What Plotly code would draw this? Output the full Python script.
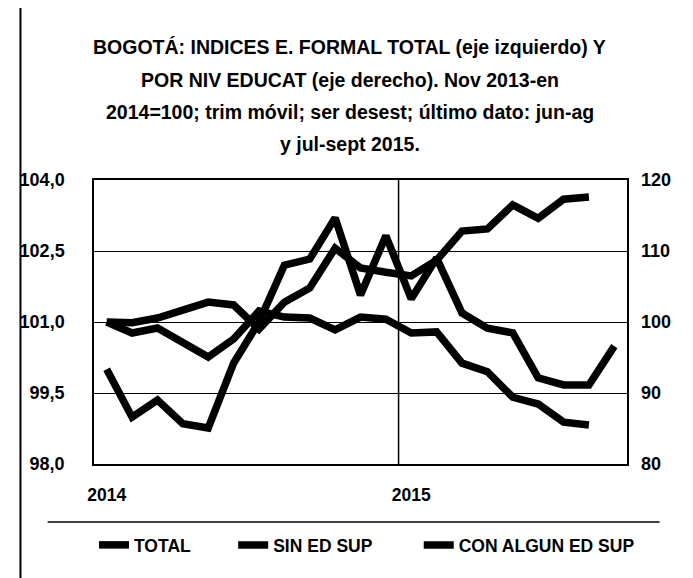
import plotly.graph_objects as go

# ---- data ----
meses = ["ene-14", "feb-14", "mar-14", "abr-14", "may-14", "jun-14", "jul-14",
         "ago-14", "sep-14", "oct-14", "nov-14", "dic-14", "ene-15", "feb-15",
         "mar-15", "abr-15", "may-15", "jun-15", "jul-15", "ago-15", "sep-15"]

total = [100.0, 98.99, 99.35, 98.85, 98.76, 100.13, 101.0, 102.2, 102.33, 103.2,
         101.57, 102.82, 101.49, 102.35, 101.19, 100.87, 100.77, 99.82, 99.67,
         99.67, 100.49]

sin_ed_sup = [100.0, 98.45, 99.15, 97.18, 95.07, 97.6, 101.55, 100.7, 100.56, 98.9,
              100.7, 100.4, 98.45, 98.6, 94.2, 93.0, 89.4, 88.45, 85.9, 85.5]

con_algun_ed_sup = [100.0, 99.9, 100.56, 101.69, 102.8, 102.4, 99.0, 102.8, 104.8,
                    110.4, 107.6, 107.0, 106.5, 108.7, 112.8, 113.1, 116.5, 114.6,
                    117.3, 117.6]

x_tickvals = ["ene-14", "ene-15"]
x_ticktext = ["2014", "2015"]
y_left_ticks = [98.0, 99.5, 101.0, 102.5, 104.0]
y_left_text = ["98,0", "99,5", "101,0", "102,5", "104,0"]
y_right_ticks = [80, 90, 100, 110, 120]
y_right_text = ["80", "90", "100", "110", "120"]

title_lines = [
    "BOGOTÁ: INDICES E. FORMAL TOTAL (eje izquierdo) Y",
    "POR NIV EDUCAT (eje derecho). Nov 2013-en",
    "2014=100; trim móvil; ser desest; último dato: jun-ag",
    "y jul-sept 2015.",
]

FONT = "Liberation Sans"
LW = 7.5

fig = go.Figure()
fig.add_trace(go.Scatter(x=meses[:len(total)], y=total, name="TOTAL", mode="lines",
                         line=dict(color="black", width=LW), yaxis="y", legend="legend"))
fig.add_trace(go.Scatter(x=meses[:len(sin_ed_sup)], y=sin_ed_sup, name="SIN ED SUP", mode="lines",
                         line=dict(color="black", width=LW), yaxis="y2", legend="legend2"))
fig.add_trace(go.Scatter(x=meses[:len(con_algun_ed_sup)], y=con_algun_ed_sup, name="CON ALGUN ED SUP",
                         mode="lines", line=dict(color="black", width=LW), yaxis="y2", legend="legend3"))

OFF = 8  # default page margin of the browser
W, H = 693 - OFF, 578 - OFF
L, T = 87 - OFF, 180 - OFF
R = W - (627 - OFF)
B = H - (464 - OFF)
pw, ph = W - L - R, H - T - B


def px(xp):
    # page pixel -> paper coordinate
    return (xp - OFF - L) / pw


def py(yp):
    return (T + ph - (yp - OFF)) / ph


leg_common = dict(orientation="h", yanchor="middle", xanchor="left", y=py(545),
                  bgcolor="rgba(0,0,0,0)",
                  font=dict(family=FONT, size=17.5, color="black", weight="bold"))

fig.update_layout(
    width=W, height=H,
    margin=dict(l=L, r=R, t=T, b=B),
    plot_bgcolor="white", paper_bgcolor="white",
    font=dict(family=FONT, color="black", weight="bold"),
    xaxis=dict(type="category", categoryorder="array", categoryarray=meses,
               range=[-0.5, 20.5], tickvals=x_tickvals, ticktext=x_ticktext,
               showgrid=False, showline=True, mirror=True, linecolor="black", linewidth=1.5,
               ticks="", ticklabelstandoff=14,
               tickfont=dict(family=FONT, size=17.5, color="black", weight="bold")),
    yaxis=dict(range=[98, 104], tickvals=y_left_ticks, ticktext=y_left_text,
               showgrid=True, gridcolor="black", gridwidth=1.3, zeroline=False,
               showline=True, mirror=True, linecolor="black", linewidth=1.5,
               ticks="", ticklabelstandoff=24,
               tickfont=dict(family=FONT, size=18, color="black", weight="bold")),
    yaxis2=dict(range=[80, 120], tickvals=y_right_ticks, ticktext=y_right_text,
                overlaying="y", side="right", showgrid=False, zeroline=False,
                showline=False, ticks="", ticklabelstandoff=13,
                tickfont=dict(family=FONT, size=18, color="black", weight="bold")),
    legend=dict(x=px(87), **leg_common),
    legend2=dict(x=px(228), **leg_common),
    legend3=dict(x=px(416), **leg_common),
    showlegend=True,
)

# vertical gridline at the year boundary
fig.add_shape(type="line", xref="x", yref="paper", x0=11.5, x1=11.5, y0=0, y1=1,
              line=dict(color="black", width=1.5), layer="below")

# title lines
for txt, yp in zip(title_lines, [47, 80, 112, 144]):
    fig.add_annotation(text=txt, xref="paper", yref="paper", x=px(346), y=py(yp),
                       xanchor="center", yanchor="middle", showarrow=False,
                       font=dict(family=FONT, size=19.5, color="black", weight="bold"))

# legend box top line
fig.add_shape(type="line", xref="paper", yref="paper", x0=px(40), x1=px(660), y0=py(522), y1=py(522),
              line=dict(color="black", width=1.5))
# outer frame (left edge)
fig.add_shape(type="line", xref="paper", yref="paper", x0=px(12.5), x1=px(12.5), y0=py(OFF), y1=py(578),
              line=dict(color="black", width=2))

fig.write_html("out.html")
